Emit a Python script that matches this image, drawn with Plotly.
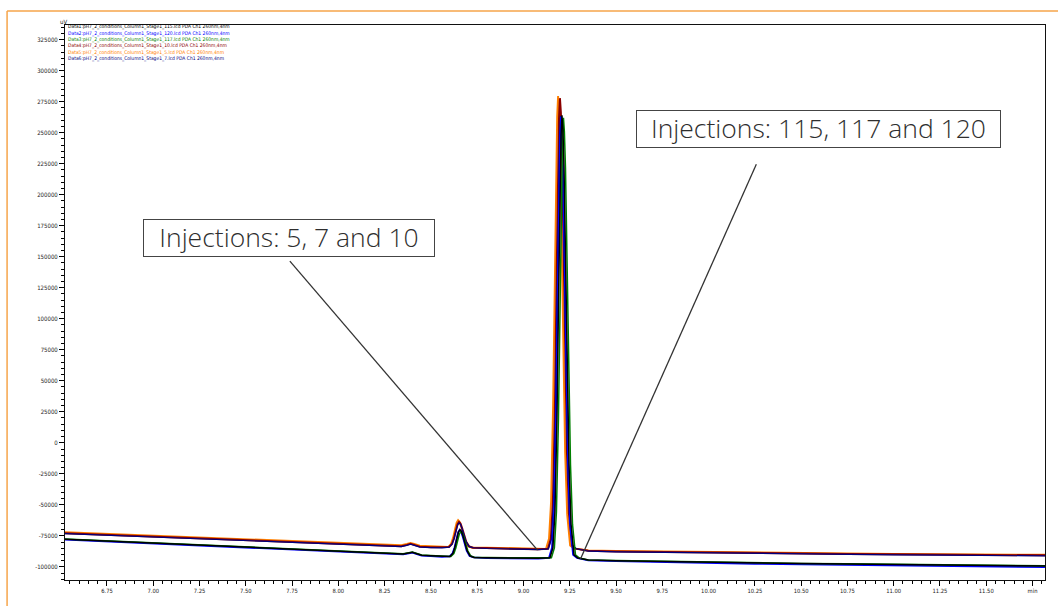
import plotly.graph_objects as go

# ---------------- data (minutes, uV) ----------------
upper_pre_t = [6.52, 6.75, 7.0, 7.25, 7.5, 7.75, 8.0, 8.2, 8.34, 8.37, 8.39, 8.41, 8.44, 8.5, 8.56]
lower_pre_t = [6.52, 6.75, 7.0, 7.25, 7.5, 7.75, 8.0, 8.2, 8.35, 8.38, 8.40, 8.42, 8.45, 8.5, 8.56]
mid_t = [8.8, 8.9, 9.0, 9.08]
post_t = [9.35, 9.5, 9.75, 10.0, 10.25, 10.5, 10.75, 11.0, 11.25, 11.5, 11.82]

# Data5 (inj 5) orange
o_pre = [-72100, -73400, -74900, -76300, -77700, -79100, -80600, -81800, -82600, -81600, -80700, -81600, -83000, -83400, -83600]
o_sp_t = [8.593, 8.609, 8.620, 8.631, 8.639, 8.647, 8.655, 8.663, 8.674, 8.685, 8.701, 8.723]
o_sp_v = [-84030, -81430, -76480, -69220, -64380, -62400, -63740, -67420, -73770, -79130, -83380, -84610]
o_mid = [-84500, -84900, -85200, -85600]
o_mp_t = [9.122, 9.138, 9.149, 9.160, 9.168, 9.176, 9.182, 9.187, 9.192, 9.198, 9.206, 9.214, 9.225, 9.236, 9.252, 9.273]
o_mp_v = [-85490, -77230, -47620, 29860, 122340, 218100, 263050, 279500, 268150, 236280, 163020, 80970, -7680, -57500, -82770, -85340]
o_post = [-86700, -87200, -87700, -88200, -88600, -88900, -89200, -89500, -89800, -90000, -90300]

# Data4 (inj 10) dark red
r_pre = [-72800, -74100, -75600, -77000, -78400, -79800, -81300, -82500, -83300, -82300, -81400, -82300, -83700, -84100, -84300]
r_sp_t = [8.598, 8.614, 8.625, 8.636, 8.644, 8.652, 8.660, 8.668, 8.679, 8.690, 8.706, 8.728]
r_sp_v = [-84050, -81620, -76980, -70190, -65650, -63800, -65050, -68500, -74460, -79480, -83470, -84620]
r_mid = [-84900, -85300, -85600, -85900]
r_mp_t = [9.132, 9.148, 9.159, 9.170, 9.178, 9.186, 9.192, 9.197, 9.202, 9.208, 9.216, 9.224, 9.235, 9.246, 9.262, 9.283]
r_mp_v = [-85490, -77270, -47800, 29320, 121370, 216680, 261430, 277800, 266500, 234780, 161860, 80190, -8050, -57630, -82790, -85340]
r_post = [-87100, -87600, -88100, -88600, -89000, -89300, -89600, -89900, -90200, -90400, -90700]

# Data6 (inj 7) navy
n_pre = [-73200, -74500, -76000, -77400, -78800, -80200, -81700, -82900, -83700, -82700, -81800, -82700, -84100, -84500, -84700]
n_sp_t = [8.598, 8.614, 8.625, 8.636, 8.644, 8.652, 8.660, 8.668, 8.679, 8.690, 8.706, 8.728]
n_sp_v = [-84060, -81730, -77270, -70740, -66380, -64600, -65810, -69120, -74850, -79680, -83510, -84620]
n_mid = [-85200, -85600, -85900, -86100]
n_mp_t = [9.135, 9.151, 9.162, 9.173, 9.181, 9.189, 9.195, 9.200, 9.205, 9.211, 9.219, 9.227, 9.238, 9.249, 9.265, 9.286]
n_mp_v = [-85510, -77610, -49300, 24790, 113220, 204780, 247770, 263500, 252640, 222170, 152110, 73640, -11140, -58780, -82950, -85400]
n_post = [-87400, -87900, -88400, -88900, -89300, -89700, -90000, -90300, -90600, -90900, -91200]

# Data2 (inj 120) blue
b_pre = [-78000, -79500, -81100, -82700, -84100, -85800, -87500, -88900, -90000, -89100, -88600, -89500, -90900, -91300, -92000]
b_sp_t = [8.601, 8.617, 8.628, 8.639, 8.647, 8.655, 8.663, 8.671, 8.682, 8.693, 8.709, 8.731]
b_sp_v = [-91630, -89060, -84150, -76960, -72160, -70200, -71540, -75220, -81570, -86930, -91180, -92410]
b_mid = [-92900, -93100, -93200, -93300]
b_mp_t = [9.138, 9.154, 9.165, 9.176, 9.184, 9.192, 9.198, 9.203, 9.208, 9.214, 9.222, 9.230, 9.241, 9.252, 9.268, 9.289]
b_mp_v = [-92700, -84660, -55820, 19650, 109720, 202990, 246780, 262800, 251730, 220660, 149240, 69250, -17170, -65730, -90370, -92870]
b_post = [-94800, -95400, -96200, -96900, -97500, -98000, -98500, -98900, -99400, -99800, -100300]

# Data3 (inj 117) green
g_pre = [-77500, -79000, -80600, -82200, -83600, -85300, -87000, -88400, -89500, -88600, -88100, -89000, -90400, -90800, -91500]
g_sp_t = [8.608, 8.624, 8.635, 8.646, 8.654, 8.662, 8.670, 8.678, 8.689, 8.700, 8.716, 8.738]
g_sp_v = [-91650, -89250, -84660, -77920, -73440, -71600, -72850, -76300, -82260, -87280, -91270, -92420]
g_mid = [-92500, -92700, -92800, -92900]
g_mp_t = [9.151, 9.167, 9.178, 9.189, 9.197, 9.205, 9.211, 9.216, 9.221, 9.227, 9.235, 9.243, 9.254, 9.265, 9.281, 9.302]
g_mp_v = [-92700, -84680, -55900, 19400, 109260, 202330, 246020, 262000, 250960, 221060, 148700, 68890, -17340, -65800, -90380, -92880]
g_post = [-94400, -94900, -95600, -96200, -96700, -97200, -97600, -98000, -98400, -98800, -99200]

# Data1 (inj 115) black
k_pre = [-77700, -79200, -80800, -82400, -83800, -85500, -87200, -88600, -89700, -88800, -88300, -89200, -90600, -91000, -91700]
k_sp_t = [8.603, 8.619, 8.630, 8.641, 8.649, 8.657, 8.665, 8.673, 8.684, 8.695, 8.711, 8.733]
k_sp_v = [-91630, -89030, -84080, -76820, -71980, -70000, -71350, -75060, -81480, -86880, -91170, -92410]
k_mid = [-92700, -92900, -93000, -93100]
k_mp_t = [9.143, 9.159, 9.170, 9.181, 9.189, 9.197, 9.203, 9.208, 9.213, 9.219, 9.227, 9.235, 9.246, 9.257, 9.273, 9.294]
k_mp_v = [-92700, -84630, -55690, 20030, 110400, 203990, 247930, 264000, 252890, 221720, 150060, 69800, -16910, -65640, -90360, -92870]
k_post = [-94500, -95000, -95700, -96300, -96800, -97300, -97700, -98100, -98500, -98900, -99300]

legend_names = [
    "Data1:pH7_2_conditions_Column1_Stage1_115.lcd PDA Ch1 260nm,4nm",
    "Data2:pH7_2_conditions_Column1_Stage1_120.lcd PDA Ch1 260nm,4nm",
    "Data3:pH7_2_conditions_Column1_Stage1_117.lcd PDA Ch1 260nm,4nm",
    "Data4:pH7_2_conditions_Column1_Stage1_10.lcd PDA Ch1 260nm,4nm",
    "Data5:pH7_2_conditions_Column1_Stage1_5.lcd PDA Ch1 260nm,4nm",
    "Data6:pH7_2_conditions_Column1_Stage1_7.lcd PDA Ch1 260nm,4nm",
]
legend_colors = ["#000000", "#0000ff", "#008000", "#8b0000", "#ff8000", "#000080"]

x_tick_vals = [6.75, 7.0, 7.25, 7.5, 7.75, 8.0, 8.25, 8.5, 8.75, 9.0, 9.25, 9.5, 9.75,
               10.0, 10.25, 10.5, 10.75, 11.0, 11.25, 11.5, 11.75]
x_tick_text = ["6.75", "7.00", "7.25", "7.50", "7.75", "8.00", "8.25", "8.50", "8.75", "9.00",
               "9.25", "9.50", "9.75", "10.00", "10.25", "10.50", "10.75", "11.00", "11.25",
               "11.50", "min"]
y_tick_vals = [-100000, -75000, -50000, -25000, 0, 25000, 50000, 75000, 100000, 125000,
               150000, 175000, 200000, 225000, 250000, 275000, 300000, 325000]
y_tick_text = ["-100000", "-75000", "-50000", "-25000", "0", "25000", "50000", "75000",
               "100000", "125000", "150000", "175000", "200000", "225000", "250000",
               "275000", "300000", "325000"]

ann1_text = "Injections: 5, 7 and 10"
ann2_text = "Injections: 115, 117 and 120"

# ---------------- figure ----------------
fig = go.Figure()

traces = [
    (upper_pre_t, o_pre, o_sp_t, o_sp_v, o_mid, o_mp_t, o_mp_v, o_post, "#ff8000", 1.9),
    (upper_pre_t, r_pre, r_sp_t, r_sp_v, r_mid, r_mp_t, r_mp_v, r_post, "#8b0000", 2.0),
    (upper_pre_t, n_pre, n_sp_t, n_sp_v, n_mid, n_mp_t, n_mp_v, n_post, "#000080", 1.2),
    (lower_pre_t, b_pre, b_sp_t, b_sp_v, b_mid, b_mp_t, b_mp_v, b_post, "#0000ff", 1.8),
    (lower_pre_t, g_pre, g_sp_t, g_sp_v, g_mid, g_mp_t, g_mp_v, g_post, "#008000", 1.5),
    (lower_pre_t, k_pre, k_sp_t, k_sp_v, k_mid, k_mp_t, k_mp_v, k_post, "#000000", 1.5),
]
for pre_t, pre_v, sp_t, sp_v, mv, mp_t, mp_v, pv, col, w in traces:
    t = list(pre_t) + list(sp_t) + list(mid_t) + list(mp_t) + list(post_t)
    v = list(pre_v) + list(sp_v) + list(mv) + list(mp_v) + list(pv)
    fig.add_trace(go.Scatter(x=t, y=v, mode="lines", line=dict(color=col, width=w),
                             showlegend=False, hoverinfo="skip"))

narrow = "DejaVu Sans Condensed, Liberation Sans Narrow, DejaVu Sans"
tick_font_y = dict(family=narrow, size=6.0, color="#222222")
tick_font_x = dict(family=narrow, size=5.8, color="#222222")

fig.update_layout(
    width=1058, height=606,
    margin=dict(l=65, r=12, t=25, b=24),
    paper_bgcolor="white", plot_bgcolor="white",
    xaxis=dict(range=[6.5233, 11.8174], tickmode="array", tickvals=x_tick_vals,
               ticktext=x_tick_text, ticks="outside", ticklen=5, tickcolor="#000",
               showgrid=False, zeroline=False, showline=True, linecolor="#111",
               linewidth=1, mirror=True, tickfont=tick_font_x,
               minor=dict(tick0=6.5, dtick=0.05, ticks="outside", ticklen=3,
                          tickcolor="#000", showgrid=False)),
    yaxis=dict(range=[-110600, 336800], tickmode="array", tickvals=y_tick_vals,
               ticktext=y_tick_text, ticks="outside", ticklen=5, tickcolor="#000",
               showgrid=False, zeroline=False, showline=True, linecolor="#111",
               linewidth=1, mirror=True, tickfont=tick_font_y,
               minor=dict(tick0=0, dtick=5000, ticks="outside", ticklen=3,
                          tickcolor="#000", showgrid=False)),
)

# legend as coloured text lines
for i, (nm, col) in enumerate(zip(legend_names, legend_colors)):
    fig.add_annotation(xref="paper", yref="paper", x=0.0015, y=1.0 - (2.0 + i * 6.3) / 557,
                       text=nm, showarrow=False, xanchor="left", yanchor="middle",
                       font=dict(family=narrow, size=4.95, color=col))

fig.add_annotation(xref="paper", yref="paper", x=-0.002, y=1.006, text="uV",
                   showarrow=False, xanchor="center", yanchor="middle",
                   font=dict(family=narrow, size=6, color="#222"))

# callout lines
fig.add_shape(type="line", xref="x", yref="y", x0=7.738, y0=146500, x1=9.076, y1=-86500,
              line=dict(color="#333333", width=1.3))
fig.add_shape(type="line", xref="x", yref="y", x0=10.258, y0=224500, x1=9.308, y1=-93700,
              line=dict(color="#333333", width=1.3))

box_font = dict(family="Open Sans, Noto Sans, sans-serif", size=26.5, color="#2e2e2e", weight=300)
fig.add_annotation(xref="x", yref="y", x=7.7317, y=164980, text=ann1_text, showarrow=False,
                   xanchor="center", yanchor="middle", width=288, height=34, align="center",
                   valign="bottom",
                   bordercolor="#444444", borderwidth=1, borderpad=1, bgcolor="white",
                   font=box_font)
fig.add_annotation(xref="x", yref="y", x=10.595, y=253250, text=ann2_text, showarrow=False,
                   xanchor="center", yanchor="middle", width=361, height=34, align="center",
                   valign="bottom",
                   bordercolor="#444444", borderwidth=1, borderpad=1, bgcolor="white",
                   font=box_font)

# orange outer frame
fig.add_shape(type="line", xref="paper", yref="paper", x0=-0.0591, y0=-0.06, x1=-0.0591,
              y1=1.0251, line=dict(color="#f6a54a", width=1.5))
fig.add_shape(type="line", xref="paper", yref="paper", x0=-0.0591, y0=1.0251, x1=1.02,
              y1=1.0251, line=dict(color="#f6a54a", width=1.5))

fig.write_html("out.html", config={"displayModeBar": False},
               post_script="document.body.style.margin='0';")
